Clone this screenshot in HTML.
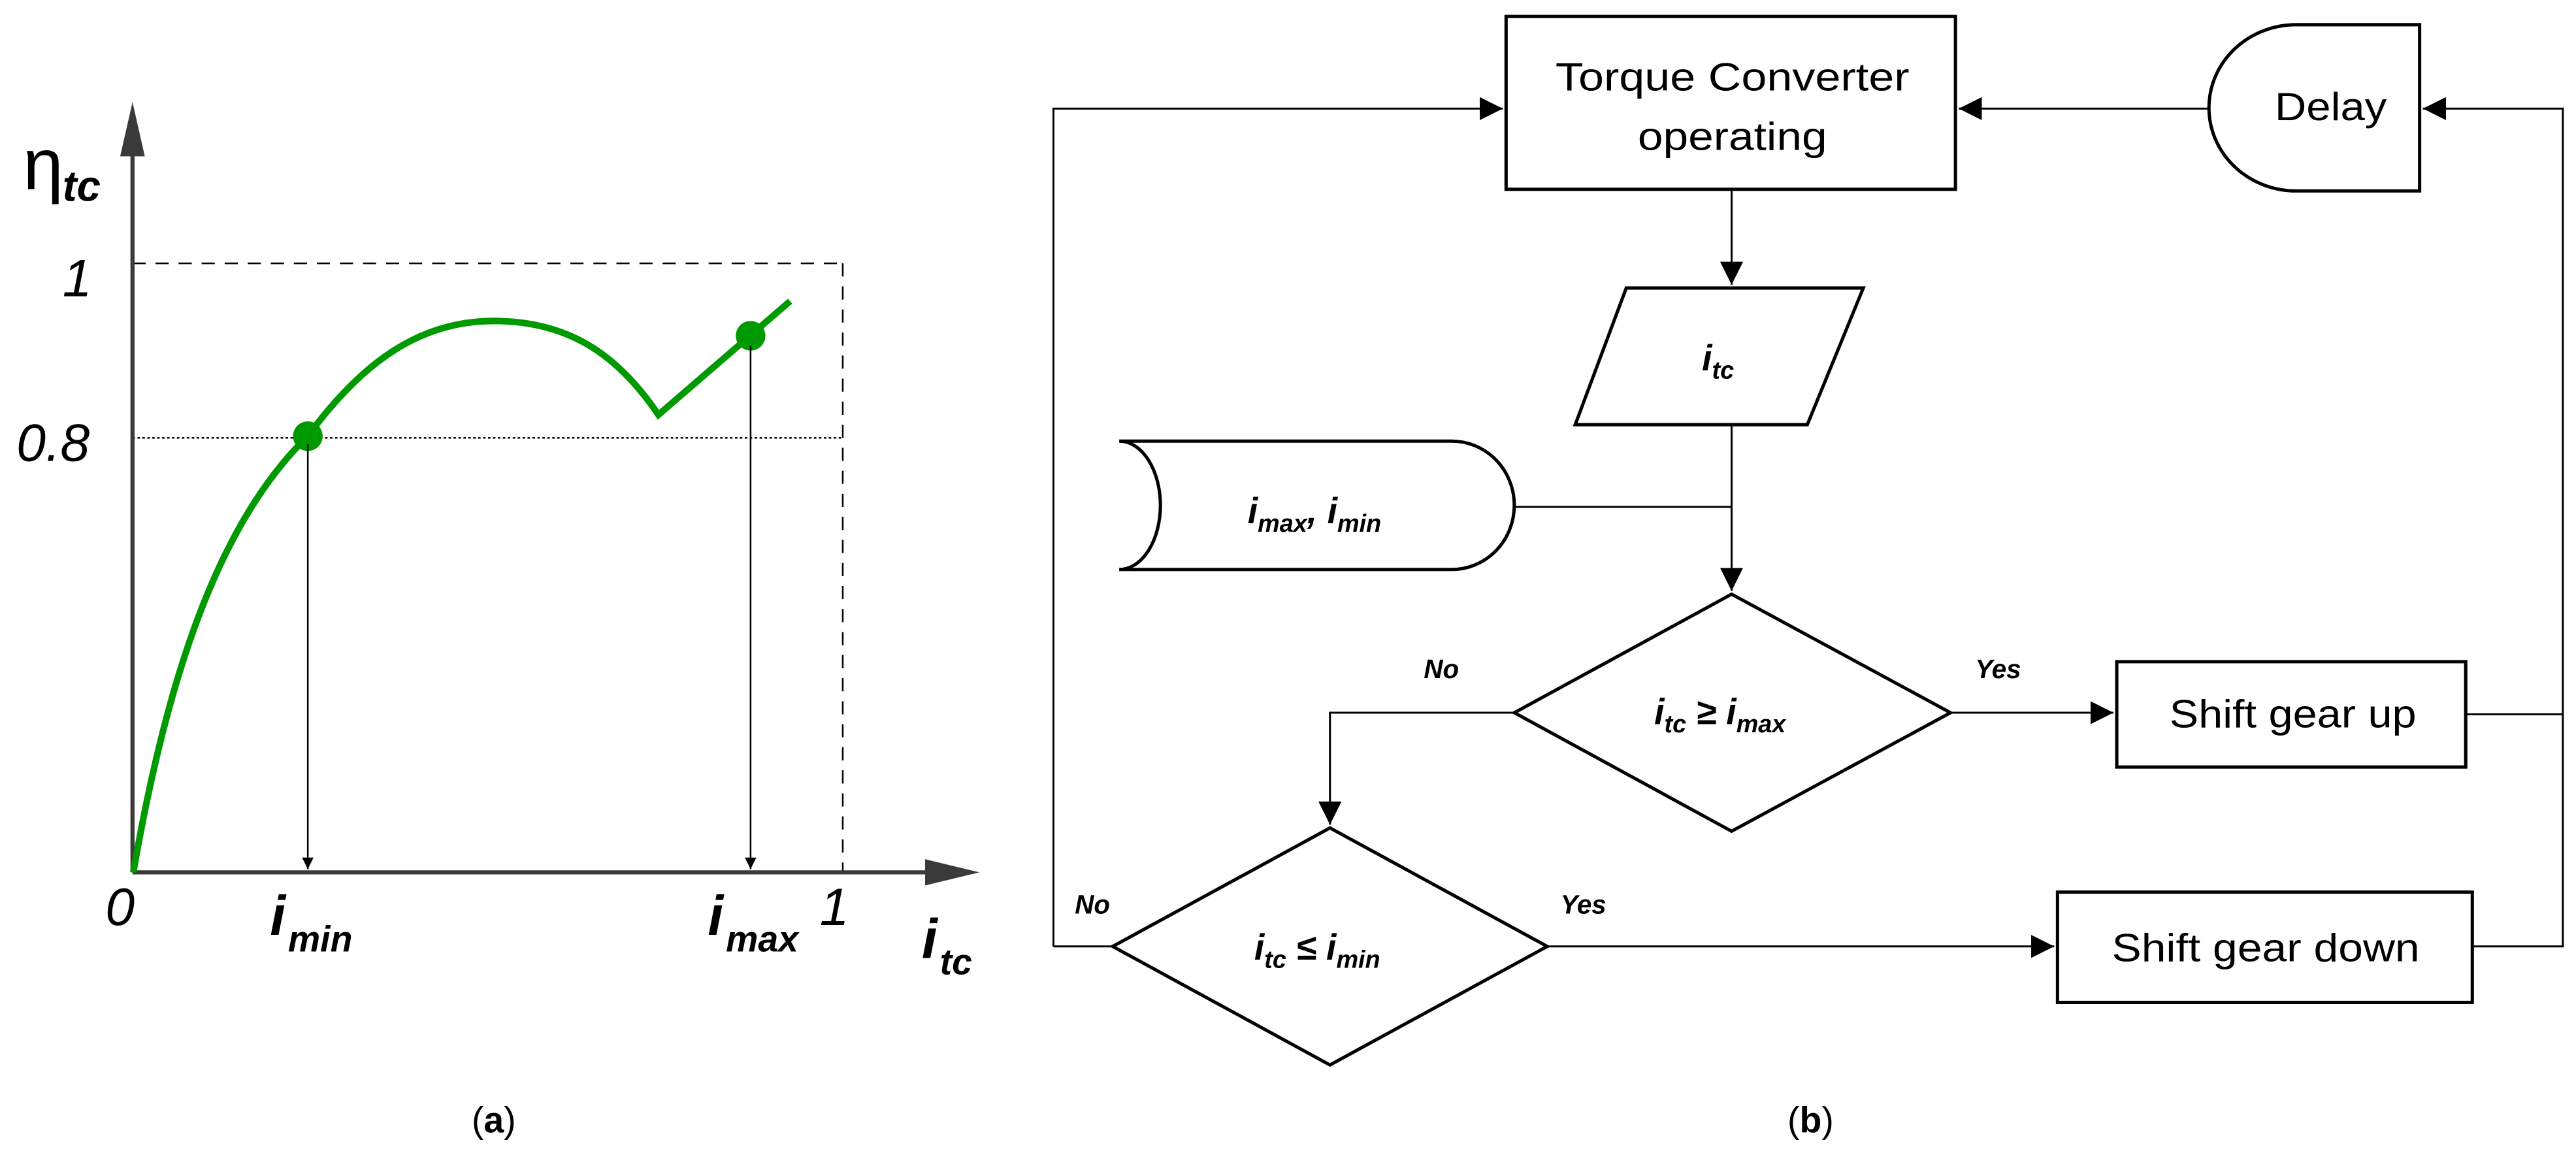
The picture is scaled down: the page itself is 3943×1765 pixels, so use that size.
<!DOCTYPE html>
<html><head><meta charset="utf-8"><style>
html,body{margin:0;padding:0;background:#fff;}
svg{display:block;}
text{font-family:"Liberation Sans",sans-serif;}
</style></head><body>
<svg width="3943" height="1765" viewBox="0 0 1565 700.5" preserveAspectRatio="none" xmlns="http://www.w3.org/2000/svg">
<defs>
<marker id="ah" viewBox="0 0 10 10" refX="10" refY="5" markerWidth="7" markerHeight="7" markerUnits="userSpaceOnUse" orient="auto"><path d="M0,0 L10,5 L0,10 z" fill="#000"/></marker>
<marker id="ahb" viewBox="0 0 10 10" refX="10" refY="5" markerWidth="14" markerHeight="14" markerUnits="userSpaceOnUse" orient="auto"><path d="M0,0 L10,5 L0,10 z" fill="#000"/></marker>
</defs>
<!-- chart (a) -->
<line x1="80.5" y1="160" x2="512" y2="160" stroke="#000" stroke-width="1" stroke-dasharray="8,6"/>
<line x1="512" y1="160" x2="512" y2="530" stroke="#000" stroke-width="1" stroke-dasharray="8,6"/>
<line x1="80.5" y1="266" x2="512" y2="266" stroke="#000" stroke-width="1" stroke-dasharray="1.5,1.5"/>
<line x1="80.5" y1="530" x2="80.5" y2="82" stroke="#3a3a3a" stroke-width="2.5"/>
<polygon points="80.5,62 73,95 88,95" fill="#3a3a3a"/>
<line x1="80.5" y1="530" x2="575" y2="530" stroke="#3a3a3a" stroke-width="2.5"/>
<polygon points="595,530 562,522 562,538" fill="#3a3a3a"/>
<path d="M81,530 C100,420 130,320 187,265 C220,220 255,195 300,195 C345,195 375,215 400,252 L480,183" fill="none" stroke="#009900" stroke-width="4"/>
<circle cx="187" cy="265" r="9" fill="#009900"/>
<circle cx="456" cy="204" r="9" fill="#009900"/>
<line x1="187" y1="270" x2="187" y2="528" stroke="#000" stroke-width="1" marker-end="url(#ah)"/>
<line x1="456" y1="210" x2="456" y2="528" stroke="#000" stroke-width="1" marker-end="url(#ah)"/>
<text x="14" y="115" font-size="44">η</text><text x="38" y="122" font-size="26" font-weight="bold" font-style="italic">tc</text>
<text x="38" y="180" font-size="32" font-style="italic">1</text>
<text x="10" y="280" font-size="32" font-style="italic">0.8</text>
<text x="64" y="562" font-size="32" font-style="italic">0</text>
<text x="164" y="568" font-size="34" font-weight="bold" font-style="italic">i</text><text x="175" y="578" font-size="22" font-weight="bold" font-style="italic">min</text>
<text x="430" y="568" font-size="34" font-weight="bold" font-style="italic">i</text><text x="441" y="578" font-size="22" font-weight="bold" font-style="italic">max</text>
<text x="498" y="562" font-size="32" font-style="italic">1</text>
<text x="560" y="582" font-size="34" font-weight="bold" font-style="italic">i</text><text x="571" y="592" font-size="22" font-weight="bold" font-style="italic">tc</text>
<text x="300" y="688" font-size="22" text-anchor="middle">(<tspan font-weight="bold">a</tspan>)</text>
<text x="1100" y="688" font-size="22" text-anchor="middle">(<tspan font-weight="bold">b</tspan>)</text>
<!-- flowchart -->
<g fill="none" stroke="#000" stroke-width="1.2">
<rect x="915" y="10" width="273" height="105" stroke-width="2"/>
<path d="M1470,15 L1395,15 A53,50.5 0 0 0 1395,116 L1470,116 Z" stroke-width="2"/>
<polygon points="988,175 1132,175 1098,258 957,258" stroke-width="2"/>
<path d="M680,268 L882,268 A38,39 0 0 1 882,346 L680,346" stroke-width="2"/>
<path d="M680,268 A25,39 0 0 1 680,346" stroke-width="2"/>
<polygon points="1052,361 1185,433 1052,505 920,433" stroke-width="2"/>
<polygon points="808,503 940,575 808,647 676,575" stroke-width="2"/>
<rect x="1286" y="402" width="212" height="64" stroke-width="2"/>
<rect x="1250" y="542" width="252" height="67" stroke-width="2"/>
<polyline points="1342,66 1190,66" marker-end="url(#ahb)"/>
<polyline points="640,575 676,575"/>
<polyline points="640,575 640,66 913,66" marker-end="url(#ahb)"/>
<polyline points="1502,575 1557,575 1557,66 1472,66" marker-end="url(#ahb)"/>
<polyline points="1498,434 1557,434"/>
<polyline points="1052,115 1052,173" marker-end="url(#ahb)"/>
<polyline points="1052,258 1052,359" marker-end="url(#ahb)"/>
<polyline points="920,308 1052,308"/>
<polyline points="1185,433 1284,433" marker-end="url(#ahb)"/>
<polyline points="920,433 808,433 808,501" marker-end="url(#ahb)"/>
<polyline points="940,575 1248,575" marker-end="url(#ahb)"/>
</g>
<g font-size="24">
<text x="945" y="55" textLength="215" lengthAdjust="spacingAndGlyphs">Torque Converter</text>
<text x="995" y="91" textLength="115" lengthAdjust="spacingAndGlyphs">operating</text>
<text x="1382" y="73" textLength="68" lengthAdjust="spacingAndGlyphs">Delay</text>
<text x="1318" y="442" textLength="150" lengthAdjust="spacingAndGlyphs">Shift gear up</text>
<text x="1283" y="584" textLength="187" lengthAdjust="spacingAndGlyphs">Shift gear down</text>
</g>
<g font-weight="bold" font-style="italic">
<text x="1034" y="225" font-size="22">i<tspan font-size="15" dy="5">tc</tspan></text>
<text x="758" y="318" font-size="22">i<tspan font-size="15" dy="5">max</tspan><tspan dy="-5">, i</tspan><tspan font-size="15" dy="5">min</tspan></text>
<text x="1005" y="440" font-size="22">i<tspan font-size="15" dy="5">tc</tspan><tspan dy="-5"> ≥ i</tspan><tspan font-size="15" dy="5">max</tspan></text>
<text x="762" y="583" font-size="22">i<tspan font-size="15" dy="5">tc</tspan><tspan dy="-5"> ≤ i</tspan><tspan font-size="15" dy="5">min</tspan></text>
<text x="865" y="412" font-size="16">No</text>
<text x="1200" y="412" font-size="16">Yes</text>
<text x="653" y="555" font-size="16">No</text>
<text x="948" y="555" font-size="16">Yes</text>
</g>
</svg>
</body></html>
